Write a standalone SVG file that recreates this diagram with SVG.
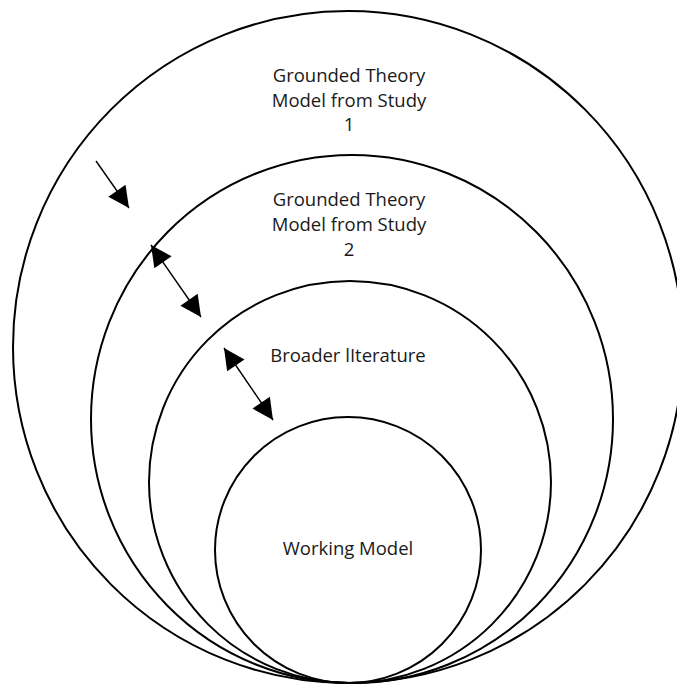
<svg xmlns="http://www.w3.org/2000/svg" width="677" height="686" viewBox="0 0 677 686">
<style>
.c{fill:none;stroke:#000;stroke-width:2}
.t{font-family:"Open Sans","Noto Sans","Liberation Sans",sans-serif;font-size:18.5px;fill:#1a1a1a;text-anchor:middle}
.a{stroke:#000;stroke-width:1.4;fill:none}
</style>
<defs>
<marker id="ah" viewBox="0 0 20 20" refX="20" refY="10" markerWidth="22" markerHeight="21" markerUnits="userSpaceOnUse" orient="auto-start-reverse">
<path d="M0,0 L20,10 L0,20 z" fill="#000"/>
</marker>
</defs>
<rect width="677" height="686" fill="#fff"/>
<g id="study1">
<ellipse class="c" cx="348" cy="347" rx="335" ry="336"/>
<text class="t" x="349" y="82">Grounded Theory</text>
<text class="t" x="349" y="107">Model from Study</text>
<text class="t" x="349" y="131">1</text>
</g>
<g id="study2">
<ellipse class="c" cx="352" cy="419" rx="261" ry="264"/>
<text class="t" x="349" y="206">Grounded Theory</text>
<text class="t" x="349" y="231">Model from Study</text>
<text class="t" x="349" y="256">2</text>
</g>
<g id="literature">
<circle class="c" cx="350" cy="482" r="201"/>
<text class="t" x="348" y="362">Broader lIterature</text>
</g>
<g id="working">
<circle class="c" cx="348" cy="550" r="133"/>
<text class="t" x="348" y="555">Working Model</text>
</g>
<g id="connectors">
<line class="a" x1="96" y1="161" x2="129" y2="208" marker-end="url(#ah)"/>
<line class="a" x1="151" y1="245" x2="201" y2="317" marker-start="url(#ah)" marker-end="url(#ah)"/>
<line class="a" x1="224" y1="348" x2="273" y2="420" marker-start="url(#ah)" marker-end="url(#ah)"/>
</g>
</svg>
